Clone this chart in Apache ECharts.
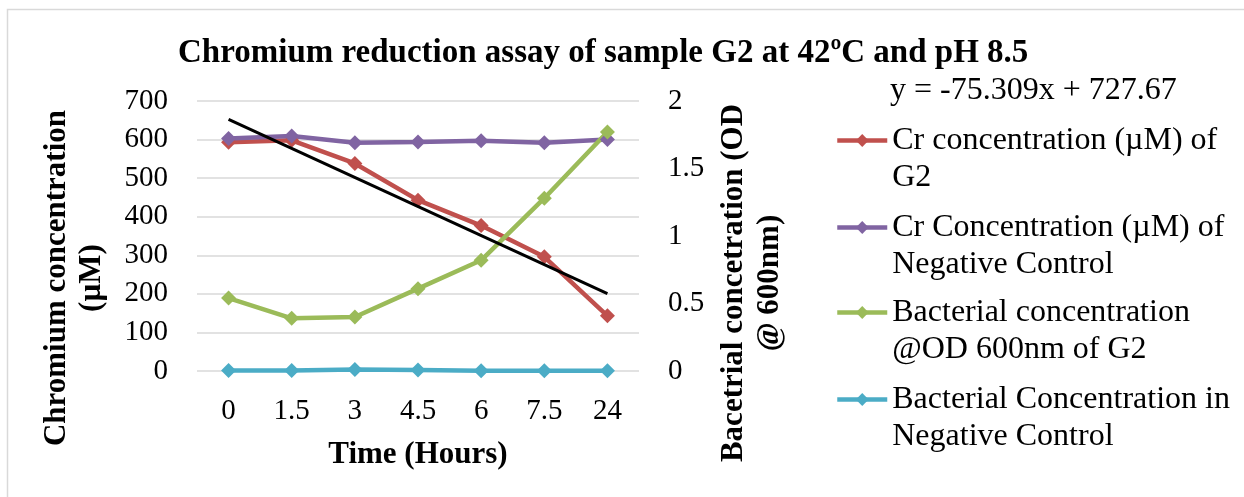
<!DOCTYPE html>
<html>
<head>
<meta charset="utf-8">
<script src="https://cdn.jsdelivr.net/npm/echarts@6/dist/echarts.min.js"></script>
<style>
  html, body { margin: 0; padding: 0; background: #fff; }
  #chart { width: 1244px; height: 497px; }
</style>
</head>
<body>
<div id="chart"></div>
<script>
const categories = ['0', '1.5', '3', '4.5', '6', '7.5', '24'];
const crG2 = [593, 598, 538, 443, 377, 296, 143];
const crNegative = [603, 609, 592, 594, 597, 592, 600];
const bacG2 = [0.54, 0.39, 0.40, 0.61, 0.82, 1.28, 1.77];
const bacNegative = [0.003, 0.004, 0.012, 0.007, 0.002, 0.002, 0.002];
// linear trendline of the Cr series, only its two end points
const trendline = [652.4, null, null, null, null, null, 200.5];

const names = [
  'Cr concentration (µM) of G2',
  'Cr Concentration (µM) of Negative Control',
  'Bacterial concentration @OD 600nm of G2',
  'Bacterial Concentration in Negative Control'
];
const legendText = {
  [names[0]]: 'Cr concentration (µM) of\nG2',
  [names[1]]: 'Cr Concentration (µM) of\nNegative Control',
  [names[2]]: 'Bacterial concentration\n@OD 600nm of G2',
  [names[3]]: 'Bacterial Concentration in\nNegative Control'
};
const colors = ['#C0504D', '#8064A2', '#9BBB59', '#4BACC6'];

const font = 'Liberation Serif';
const chart = echarts.init(document.getElementById('chart'));

// empty first line so the icon sits level with the first text line
const legendTops = [85, 172, 257, 344];
const legends = names.map((n, i) => ({
  data: [n],
  left: 835,
  top: legendTops[i],
  padding: 0,
  itemWidth: 50,
  itemHeight: 16,
  selectedMode: false,
  lineStyle: { width: 4.5 },
  formatter: (name) => '\n' + legendText[name],
  textStyle: {
    fontFamily: font,
    fontSize: 32,
    lineHeight: 37,
    color: '#000'
  }
}));

const lineSeries = (i, data, yIdx) => ({
  name: names[i],
  type: 'line',
  yAxisIndex: yIdx,
  data: data,
  symbol: 'diamond',
  symbolSize: 15,
  color: colors[i],
  lineStyle: { width: 4.5, color: colors[i] },
  itemStyle: { color: colors[i] }
});

const option = {
  backgroundColor: '#fff',
  animation: false,
  title: {
    text: 'Chromium reduction assay of sample G2 at 42ºC and pH 8.5',
    left: 178,
    top: 37,
    padding: 0,
    textStyle: { fontFamily: font, fontSize: 33, fontWeight: 'bold', color: '#000' }
  },
  legend: legends,
  graphic: [
    {
      type: 'rect',
      shape: { x: 7.5, y: 9.5, width: 1260, height: 520 },
      style: { fill: 'none', stroke: '#d9d9d9', lineWidth: 1.5 },
      silent: true
    },
    {
      type: 'text',
      left: 890,
      top: 75,
      style: { text: 'y = -75.309x + 727.67', fontFamily: font, fontSize: 32, fill: '#000' }
    }
  ],
  grid: { left: 197, right: 605, top: 101, bottom: 126 },
  xAxis: {
    type: 'category',
    data: categories,
    axisLine: { show: false },
    axisTick: { show: false },
    axisLabel: { fontFamily: font, fontSize: 29, color: '#000', margin: 26 },
    name: 'Time (Hours)',
    nameLocation: 'middle',
    nameGap: 68,
    nameTextStyle: { fontFamily: font, fontSize: 31, fontWeight: 'bold', color: '#000' }
  },
  yAxis: [
    {
      type: 'value',
      min: 0,
      max: 700,
      interval: 100,
      axisLine: { show: false },
      axisTick: { show: false },
      splitLine: { lineStyle: { color: '#d9d9d9', width: 1.5 } },
      axisLabel: { fontFamily: font, fontSize: 29, color: '#000', margin: 29 },
      name: 'Chromium concentration\n(µM)',
      nameLocation: 'middle',
      nameRotate: 90,
      nameGap: 88,
      nameTextStyle: {
        fontFamily: font, fontSize: 31, fontWeight: 'bold', color: '#000',
        lineHeight: 35, padding: [0, 84, 0, 0]
      }
    },
    {
      type: 'value',
      min: 0,
      max: 2,
      interval: 0.5,
      axisLine: { show: false },
      axisTick: { show: false },
      splitLine: { show: false },
      axisLabel: { fontFamily: font, fontSize: 29, color: '#000', margin: 29 },
      name: 'Bacetrial concetration (OD\n@ 600nm)',
      nameLocation: 'middle',
      nameRotate: 90,
      nameGap: 77,
      nameTextStyle: {
        fontFamily: font, fontSize: 31, fontWeight: 'bold', color: '#000',
        lineHeight: 36, padding: [0, 94, 0, 0]
      }
    }
  ],
  series: [
    lineSeries(0, crG2, 0),
    lineSeries(1, crNegative, 0),
    lineSeries(2, bacG2, 1),
    lineSeries(3, bacNegative, 1),
    {
      name: 'Linear (Cr concentration (µM) of G2)',
      type: 'line',
      yAxisIndex: 0,
      data: trendline,
      connectNulls: true,
      showSymbol: false,
      symbol: 'none',
      z: 5,
      lineStyle: { width: 3, color: '#000' }
    }
  ]
};

chart.setOption(option);
</script>
</body>
</html>
